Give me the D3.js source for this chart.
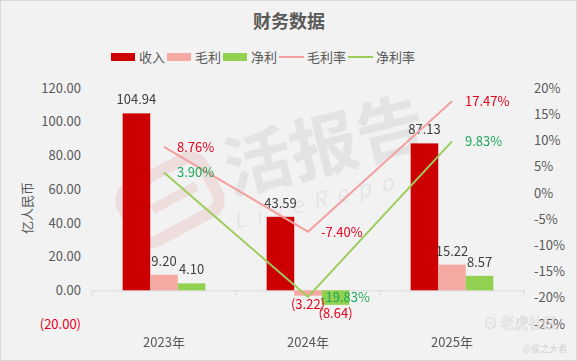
<!DOCTYPE html>
<html><head><meta charset="utf-8">
<script src="https://cdn.jsdelivr.net/npm/d3@7/dist/d3.min.js"></script>
<style>
html,body{margin:0;padding:0;background:#fff;}
svg{display:block;font-family:"Noto Sans CJK SC","Microsoft YaHei",sans-serif;}
</style></head><body>
<svg id="c" width="577" height="361"></svg>
<script>
const categories = ["2023年","2024年","2025年"];
const revenue = [104.94, 43.59, 87.13];
const grossProfit = [9.20, -3.22, 15.22];
const netProfit = [4.10, -8.64, 8.57];
const grossMargin = [8.76, -7.40, 17.47];
const netMargin = [3.90, -19.83, 9.83];
const leftTicks = [-20, 0, 20, 40, 60, 80, 100, 120];
const rightTicks = [-25, -20, -15, -10, -5, 0, 5, 10, 15, 20];
const barSeries = [
  {name:"收入", values: revenue, color:"#cc0000"},
  {name:"毛利", values: grossProfit, color:"#f6a9a2"},
  {name:"净利", values: netProfit, color:"#92d050"}
];
const lineSeries = [
  {name:"毛利率", values: grossMargin, color:"#f4a0a0", label:"#e8001c"},
  {name:"净利率", values: netMargin, color:"#9ccc5a", label:"#1fa75c"}
];

const svg = d3.select("#c");
const W = 577, H = 361;
svg.append("rect").attr("x",0.5).attr("y",0.5).attr("width",W-1).attr("height",H-1)
  .attr("fill","#f2f2f2").attr("stroke","#d9d9d9");

// watermark
const wm = svg.append("g").attr("opacity",0.5);
const wl = wm.append("g").attr("transform","translate(170,200) rotate(-28)");
wl.append("rect").attr("x",-45).attr("y",-30).attr("width",90).attr("height",60).attr("rx",14)
  .attr("fill","none").attr("stroke","#ebc9c9").attr("stroke-width",12);
wl.append("rect").attr("x",-20).attr("y",-5).attr("width",50).attr("height",10)
  .attr("fill","#ebc9c9");
wm.append("text").attr("transform","translate(330,170) rotate(-14)")
  .attr("text-anchor","middle").attr("font-size",68).attr("font-weight","bold")
  .attr("fill","#d4d4d4").text("活报告");
wm.append("text").attr("transform","translate(320,208) rotate(-14)")
  .attr("text-anchor","middle").attr("font-size",22).attr("letter-spacing",10)
  .attr("font-style","italic").attr("fill","#d8d8d8").text("LiveRepo");

// title
svg.append("text").attr("x",289).attr("y",28).attr("text-anchor","middle")
  .attr("font-size",18).attr("font-weight","bold").attr("fill","#595959").text("财务数据");

// scales
const x = d3.scaleBand().domain(categories).range([92,524]).padding(0);
const x1 = d3.scaleBand().domain(barSeries.map(d=>d.name))
  .range([x.bandwidth()*0.213, x.bandwidth()*0.787]).padding(0);
const yL = d3.scaleLinear().domain([-20,120]).range([324,88]);
const yR = d3.scaleLinear().domain([-25,20]).range([324,88]);

const f2 = v => Math.abs(v).toFixed(2);
// left axis
const fmtL = v => v < 0 ? "(" + f2(v) + ")" : f2(v);
const gl = svg.append("g").attr("transform","translate(84,0)")
  .call(d3.axisLeft(yL).tickValues(leftTicks).tickSize(0).tickFormat(fmtL));
gl.select(".domain").remove();
gl.selectAll("text").attr("font-size",13).attr("font-family","Noto Sans CJK SC, sans-serif")
  .attr("fill", d => d < 0 ? "#e8001c" : "#595959");

// right axis
const gr = svg.append("g").attr("transform","translate(531,0)")
  .call(d3.axisRight(yR).tickValues(rightTicks).tickSize(0).tickFormat(d => (d < 0 ? "-" : "") + Math.abs(d) + "%"));
gr.select(".domain").remove();
gr.selectAll("text").attr("font-size",13).attr("font-family","Noto Sans CJK SC, sans-serif")
  .attr("fill","#595959");

// y title
svg.append("text").attr("transform","translate(32,208) rotate(-90)")
  .attr("text-anchor","middle").attr("font-size",13).attr("fill","#595959").text("亿人民币");

// x axis
const gx = svg.append("g").attr("transform",`translate(0,${yL(0)})`)
  .call(d3.axisBottom(x).tickSize(0).tickFormat(""));
gx.select(".domain").attr("stroke","#d9d9d9");
const bounds = [92, ...categories.map(c => x(c) + x.bandwidth())];
gx.selectAll(".bt").data(bounds).enter().append("line").attr("class","bt")
  .attr("x1",d=>d).attr("x2",d=>d).attr("y1",0).attr("y2",5).attr("stroke","#d9d9d9");
svg.append("g").selectAll("text").data(categories).enter().append("text")
  .attr("x", d => x(d) + x.bandwidth()/2).attr("y", 347).attr("text-anchor","middle")
  .attr("font-size",13).attr("fill","#595959").text(d=>d);

// bars
const fmtV = v => v < 0 ? "(" + f2(v) + ")" : f2(v);
barSeries.forEach(s => {
  const g = svg.append("g");
  g.selectAll("rect").data(s.values).enter().append("rect")
    .attr("x",(d,i)=> x(categories[i]) + x1(s.name))
    .attr("width", x1.bandwidth())
    .attr("y", d => d >= 0 ? yL(d) : yL(0))
    .attr("height", d => Math.abs(yL(d) - yL(0)))
    .attr("fill", s.color);
});
barSeries.forEach(s => {
  svg.append("g").selectAll("text").data(s.values).enter().append("text")
    .attr("x",(d,i)=> x(categories[i]) + x1(s.name) + x1.bandwidth()/2)
    .attr("y", d => d >= 0 ? yL(d) - 9 : yL(d) + 13)
    .attr("text-anchor","middle").attr("font-size",13)
    .attr("fill", d => d < 0 ? "#e8001c" : "#404040")
    .text(d => fmtV(d));
});

// lines
const cx = c => x(c) + x.bandwidth()/2;
lineSeries.forEach(s => {
  const line = d3.line().x((d,i)=>cx(categories[i])).y(d=>yR(d));
  svg.append("path").datum(s.values).attr("d",line).attr("fill","none")
    .attr("stroke",s.color).attr("stroke-width",2);
  svg.append("g").selectAll("text").data(s.values).enter().append("text")
    .attr("x",(d,i)=>cx(categories[i]) + 13).attr("y", d => yR(d) + 5)
    .attr("font-size",13).attr("fill", s.label).text(d => (d < 0 ? "-" : "") + f2(d) + "%");
});

// legend
const lg = svg.append("g").attr("transform","translate(0,57)");
const items = [
  {t:"收入", c:"#cc0000", type:"rect", x:111},
  {t:"毛利", c:"#f6a9a2", type:"rect", x:167},
  {t:"净利", c:"#92d050", type:"rect", x:223},
  {t:"毛利率", c:"#f4a0a0", type:"line", x:279},
  {t:"净利率", c:"#9ccc5a", type:"line", x:348}
];
items.forEach(it => {
  if (it.type === "rect") lg.append("rect").attr("x",it.x).attr("y",-4).attr("width",24).attr("height",8).attr("fill",it.c);
  else lg.append("line").attr("x1",it.x).attr("x2",it.x+25).attr("y1",0).attr("y2",0).attr("stroke",it.c).attr("stroke-width",2);
  lg.append("text").attr("x",it.x+28).attr("y",5).attr("font-size",13).attr("fill","#595959").text(it.t);
});

// corner watermark
svg.append("text").attr("x",520).attr("y",328).attr("text-anchor","middle").attr("font-size",14)
  .attr("fill","#ffffff").attr("opacity",0.8).attr("stroke","#cfcfcf").attr("stroke-width",0.6).text("⊙ 老虎社区");
svg.append("text").attr("x",545).attr("y",352).attr("text-anchor","middle").attr("font-size",9)
  .attr("fill","#d0d0d0").text("@侯之大者");
</script></body></html>
